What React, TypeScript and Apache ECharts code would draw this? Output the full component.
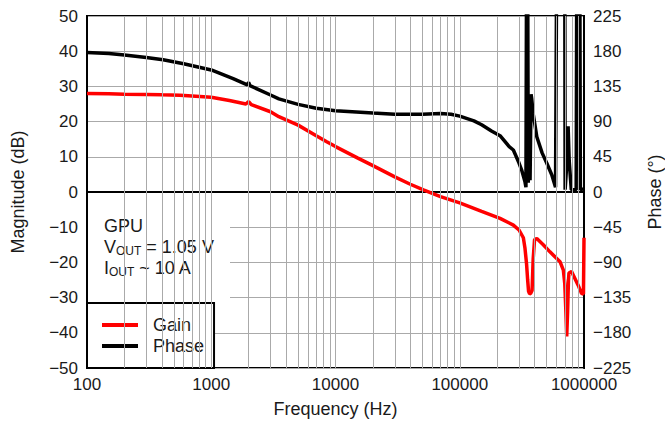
import React, { useEffect, useRef } from "react";
import * as echarts from "echarts";

// ---- Data ----
const gainFreq = [
  100, 150, 200, 300, 400, 560, 700, 1000, 1400, 1900, 2000, 2100, 3000, 3500, 5000, 7000, 8500,
  10000, 15000, 20000, 30000, 40000, 51000, 70000, 100000, 150000, 211000, 270000, 300000, 325000,
  335000, 345000, 352000, 358000, 365000, 372000, 382000, 390000, 400000, 417000, 470000, 532000,
  641000, 682000, 700000, 715000, 726000, 738000, 750000, 757000, 794000, 843000, 895000, 955000,
  990000, 1000000,
];
const gainDb = [
  28.0, 27.9, 27.8, 27.7, 27.6, 27.5, 27.3, 26.9, 26.0, 25.0, 25.7, 24.8, 22.8, 21.4, 19.0, 16.0, 14.3,
  12.9, 9.7, 7.5, 4.3, 2.2, 0.6, -1.3, -3.1, -5.5, -7.5, -9.4, -10.8, -13.0,
  -16.0, -20.5, -25.0, -28.2, -28.9, -28.8, -28.0, -19.0, -13.5, -13.2, -15.0, -17.0,
  -19.8, -22.2, -26.0, -34.0, -41.0, -34.0, -25.0, -23.0, -22.6, -24.5, -26.4, -28.8,
  -29.0, -13.0,
];

const phaseFreq = [
  100, 150, 200, 300, 410, 600, 1000, 1500, 1950, 2000, 2050, 3000, 3500, 5000, 7000, 10000, 20000,
  30000, 50000, 70000, 85000, 100000, 130000, 150000, 180000, 211000, 250000, 270000, 300000,
  315000, 335000, 341000, 345000, 352000, 356000, 362000, 368000, 375000, 379000, 390000, 417000,
  460000, 501000, 550000, 590000, 603000, 700000, 705000, 730000, 745000, 760000, 790000, 865000,
  875000, 925000, 935000, 1000000,
];
const phaseDeg = [
  178.4, 177, 175, 172, 169, 164, 156, 145, 137, 140, 136, 124, 119, 112, 107, 104, 101,
  99.5, 99.5, 100.5, 99.5, 97, 91, 86, 78, 72, 58, 53.7, 37,
  28, 13, 6, 300, 300, 12, 100, 15, 125, 120, 100, 70.7,
  50, 37, 22, 6, 300, 300, 3, 40, 84, 40, 3, 3,
  300, 300, 3, 4,
];

const magTicks = { min: -50, max: 50, interval: 10 };
const phaseTicks = { min: -225, max: 225, interval: 45 };
const freqRange = { min: 100, max: 1000000 };
const decades = [100, 1000, 10000, 100000];
const decadeSteps = [2, 3, 4, 5, 6, 7, 8, 9, 10];

const FONT = "Liberation Sans, Arial, sans-serif";
const fmtMinus = (v: number) => (v < 0 ? "\u2212" + Math.abs(v) : String(v));

export default function App() {
  const ref = useRef<HTMLDivElement>(null);

  useEffect(() => {
    if (!ref.current) return;
    const chart = echarts.init(ref.current, undefined, { renderer: "svg", width: 665, height: 421 });

    const vGrid: number[] = [];
    decades.forEach((d) => decadeSteps.forEach((s) => {
      const f = d * s;
      if (f < freqRange.max) vGrid.push(f);
    }));

    const option: any = {
      animation: false,
      backgroundColor: "#ffffff",
      grid: {
        left: 87,
        right: 81,
        top: 16,
        bottom: 53,
        outerBoundsMode: "none",
        containLabel: false,
        show: true,
        borderColor: "#000",
        borderWidth: 2,
        backgroundColor: "transparent",
      },
      legend: {
        data: ["Gain", "Phase"],
        orient: "vertical",
        left: 87,
        top: 303,
        padding: [13, 10, 13, 15],
        itemGap: 3,
        itemWidth: 36,
        itemHeight: 4,
        icon: "rect",
        backgroundColor: "#fff",
        borderColor: "#000",
        borderWidth: 2,
        borderRadius: 0,
        textStyle: { fontFamily: FONT, fontSize: 18, color: "#1a1a1a", padding: [0, 0, 0, 10] },
      },
      xAxis: {
        type: "log",
        logBase: 10,
        min: freqRange.min,
        max: freqRange.max,
        name: "Frequency (Hz)",
        nameLocation: "middle",
        nameGap: 32,
        nameTextStyle: { fontFamily: FONT, fontSize: 18, color: "#1a1a1a" },
        axisLine: { show: true, lineStyle: { color: "#000", width: 2 } },
        axisTick: { show: false },
        splitLine: { show: false },
        axisLabel: {
          fontFamily: FONT,
          fontSize: 17,
          color: "#1a1a1a",
          margin: 8,
          formatter: (v: number) => String(Math.round(v)),
        },
      },
      yAxis: [
        {
          type: "value",
          min: magTicks.min,
          max: magTicks.max,
          interval: magTicks.interval,
          name: "Magnitude (dB)",
          nameLocation: "middle",
          nameGap: 60,
          nameRotate: 90,
          nameTextStyle: { fontFamily: FONT, fontSize: 18, color: "#1a1a1a" },
          axisLine: { show: true, lineStyle: { color: "#000", width: 2 } },
          axisTick: { show: false },
          splitLine: { show: true, lineStyle: { color: "#aaaaaa", width: 1 } },
          axisLabel: { fontFamily: FONT, fontSize: 17, color: "#1a1a1a", margin: 9, formatter: fmtMinus },
        },
        {
          type: "value",
          position: "right",
          min: phaseTicks.min,
          max: phaseTicks.max,
          interval: phaseTicks.interval,
          name: "Phase (\u00b0)",
          nameLocation: "middle",
          nameGap: 62,
          nameRotate: 90,
          nameTextStyle: { fontFamily: FONT, fontSize: 18, color: "#1a1a1a" },
          axisLine: { show: true, lineStyle: { color: "#000", width: 2 } },
          axisTick: { show: false },
          splitLine: { show: false },
          axisLabel: { fontFamily: FONT, fontSize: 17, color: "#1a1a1a", margin: 9, formatter: fmtMinus },
        },
      ],
      graphic: [
        {
          type: "rect",
          z: 1,
          shape: { x: 88, y: 203, width: 142, height: 95 },
          style: { fill: "#fff" },
          silent: true,
        },
        {
          type: "text",
          z: 3,
          x: 104,
          y: 215,
          style: {
            text: "{a|GPU}\n{a|V}{s|OUT}{a| = 1.05 V}\n{a|I}{s|OUT}{a| ~ 10 A}",
            fill: "#1a1a1a",
            rich: {
              a: { fontFamily: FONT, fontSize: 18, lineHeight: 21, fill: "#1a1a1a" },
              s: { fontFamily: FONT, fontSize: 12, lineHeight: 21, verticalAlign: "bottom", fill: "#1a1a1a" },
            },
          },
          silent: true,
        },
      ],
      series: [
        {
          name: "grid",
          type: "line",
          z: 0,
          data: [],
          silent: true,
          markLine: {
            silent: true,
            symbol: "none",
            label: { show: false },
            lineStyle: { color: "#aaaaaa", width: 1, type: "solid" },
            data: vGrid.map((f) => ({ xAxis: f })),
          },
        },
        {
          name: "Gain",
          type: "line",
          yAxisIndex: 0,
          z: 2,
          showSymbol: false,
          clip: true,
          color: "#ff0000",
          lineStyle: { color: "#ff0000", width: 3.5 },
          data: gainFreq.map((f, i) => [f, gainDb[i]]),
        },
        {
          name: "Phase",
          type: "line",
          yAxisIndex: 1,
          z: 2,
          showSymbol: false,
          clip: true,
          color: "#000000",
          lineStyle: { color: "#000000", width: 3.5 },
          data: phaseFreq.map((f, i) => [f, phaseDeg[i]]),
        },
      ],
    };

    chart.setOption(option);
    return () => chart.dispose();
  }, []);

  return (
    <div
      ref={ref}
      style={{ position: "fixed", left: 0, top: 0, width: 665, height: 421, background: "#fff" }}
    />
  );
}
